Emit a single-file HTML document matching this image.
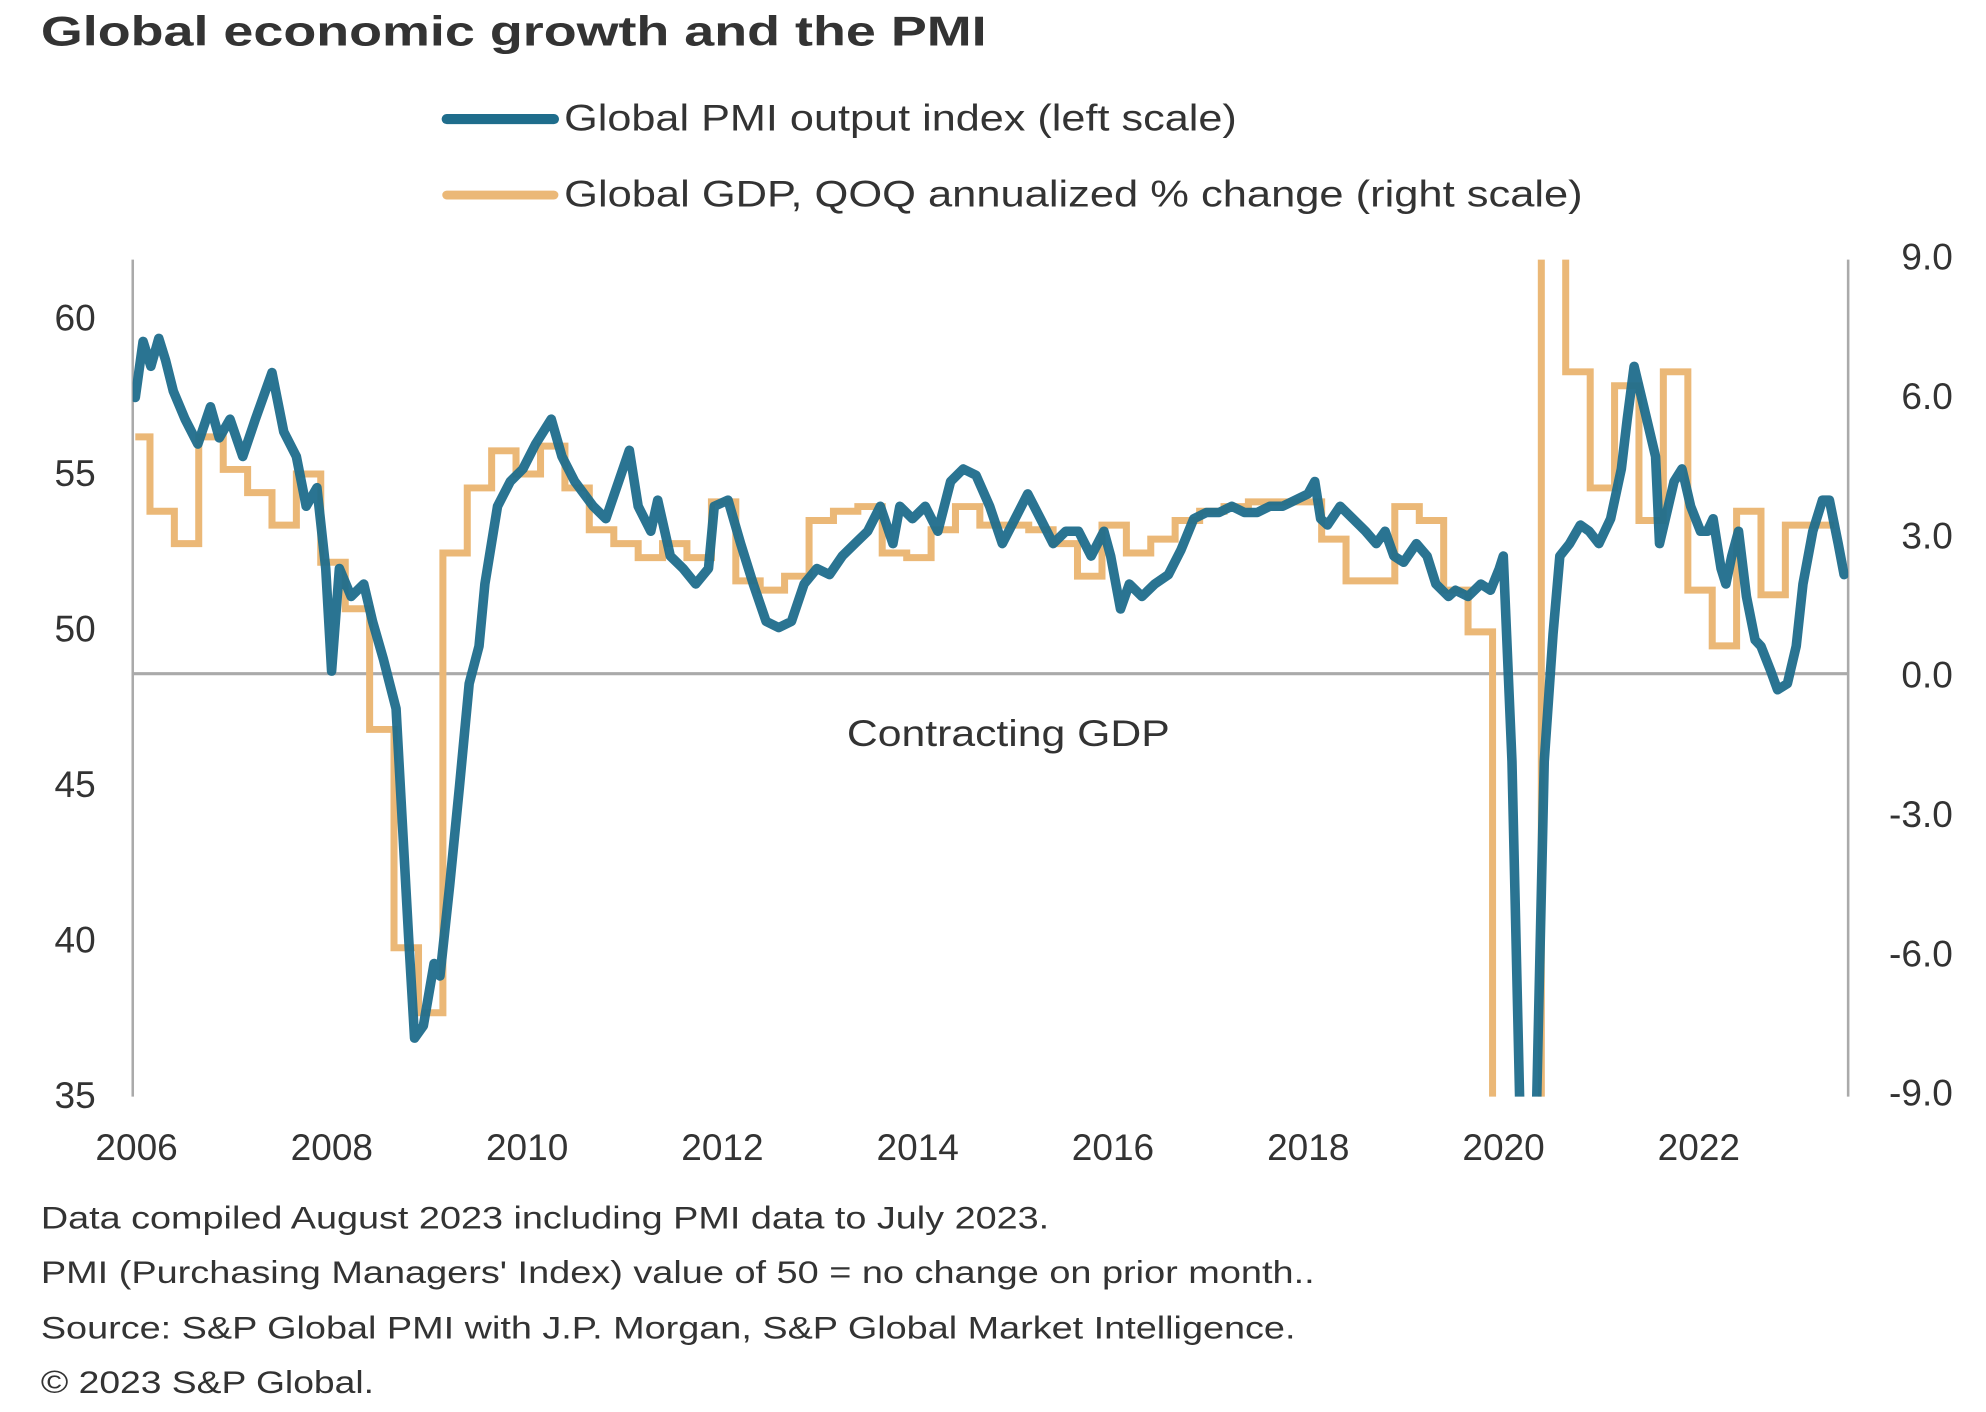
<!DOCTYPE html>
<html><head><meta charset="utf-8">
<style>
html,body{margin:0;padding:0;background:#fff;width:1986px;height:1412px;overflow:hidden;}
svg{display:block;}
text{font-family:"Liberation Sans",Arial,sans-serif;fill:#333;}
</style></head>
<body>
<svg id="chart" width="1986" height="1412" viewBox="0 0 1556 1115" preserveAspectRatio="none" xmlns="http://www.w3.org/2000/svg">
  <rect x="0" y="0" width="1556" height="1115" fill="#fff"/>
  <text x="32" y="36" font-size="33" font-weight="bold" fill="#222" textLength="741" lengthAdjust="spacingAndGlyphs">Global economic growth and the PMI</text>
  <g>
    <g>
      <line x1="350" y1="94" x2="434" y2="94" stroke="#1f6d8c" stroke-width="8" stroke-linecap="round"/>
      <text x="442" y="103" font-size="29" textLength="527" lengthAdjust="spacingAndGlyphs">Global PMI output index (left scale)</text>
    </g>
    <g>
      <line x1="350" y1="154" x2="434" y2="154" stroke="#ebb877" stroke-width="7" stroke-linecap="round"/>
      <text x="442" y="163" font-size="29" textLength="798" lengthAdjust="spacingAndGlyphs">Global GDP, QOQ annualized % change (right scale)</text>
    </g>
  </g>
  <line x1="104" y1="205" x2="104" y2="866" stroke="#aaa" stroke-width="2"/>
  <line x1="1448" y1="205" x2="1448" y2="866" stroke="#aaa" stroke-width="2"/>
  <g id="axes"></g>
  <defs><clipPath id="plotclip"><rect x="104" y="205" width="1344" height="661"/></clipPath></defs>
  <g id="series" clip-path="url(#plotclip)"></g>
  <text x="790" y="589" font-size="29" text-anchor="middle" textLength="253" lengthAdjust="spacingAndGlyphs">Contracting GDP</text>
  <g font-size="25">
    <text x="32" y="970" textLength="790" lengthAdjust="spacingAndGlyphs">Data compiled August 2023 including PMI data to July 2023.</text>
    <text x="32" y="1013" textLength="998" lengthAdjust="spacingAndGlyphs">PMI (Purchasing Managers' Index) value of 50 = no change on prior month..</text>
    <text x="32" y="1057" textLength="983" lengthAdjust="spacingAndGlyphs">Source: S&amp;P Global PMI with J.P. Morgan, S&amp;P Global Market Intelligence.</text>
    <text x="32" y="1100" textLength="261" lengthAdjust="spacingAndGlyphs">© 2023 S&amp;P Global.</text>
  </g>
</svg>
<script>
const pmiDates = [0.00,0.08,0.16,0.24,0.31,0.39,0.51,0.64,0.77,0.86,0.97,1.10,1.23,1.40,1.52,1.65,1.75,1.86,1.95,2.01,2.09,2.21,2.34,2.43,2.54,2.67,2.80,2.86,2.95,3.06,3.12,3.22,3.32,3.42,3.52,3.58,3.71,3.84,3.97,4.10,4.26,4.37,4.50,4.69,4.82,4.95,5.06,5.15,5.28,5.35,5.48,5.61,5.74,5.87,5.93,6.07,6.20,6.33,6.46,6.59,6.72,6.85,6.98,7.11,7.24,7.37,7.50,7.63,7.76,7.83,7.96,8.09,8.22,8.35,8.48,8.61,8.75,8.88,9.01,9.14,9.27,9.40,9.53,9.66,9.79,9.92,9.99,10.09,10.18,10.31,10.44,10.58,10.71,10.84,10.97,11.10,11.23,11.36,11.49,11.62,11.75,11.88,12.01,12.08,12.14,12.21,12.34,12.47,12.60,12.71,12.80,12.89,12.99,13.12,13.23,13.32,13.45,13.52,13.65,13.78,13.88,13.97,14.01,14.10,14.24,14.34,14.43,14.52,14.59,14.69,14.80,14.89,14.99,15.11,15.22,15.28,15.35,15.48,15.57,15.61,15.67,15.76,15.84,15.93,16.03,16.10,16.16,16.24,16.29,16.35,16.42,16.50,16.59,16.65,16.75,16.82,16.92,17.01,17.08,17.18,17.28,17.35,17.44,17.50];
const pmiValues = [57.4,59.2,58.4,59.3,58.6,57.6,56.7,55.9,57.1,56.1,56.7,55.5,56.7,58.2,56.3,55.5,53.9,54.5,51.9,48.6,51.9,51.0,51.4,50.2,49.0,47.4,40.0,36.8,37.2,39.2,38.8,41.7,44.9,48.2,49.4,51.4,53.9,54.7,55.1,55.9,56.7,55.5,54.7,53.9,53.5,54.7,55.7,53.9,53.1,54.1,52.3,51.9,51.4,51.9,53.9,54.1,52.7,51.4,50.2,50.0,50.2,51.4,51.9,51.7,52.3,52.7,53.1,53.9,52.7,53.9,53.5,53.9,53.1,54.7,55.1,54.9,53.9,52.7,53.5,54.3,53.5,52.7,53.1,53.1,52.3,53.1,52.3,50.6,51.4,51.0,51.4,51.7,52.5,53.5,53.7,53.7,53.9,53.7,53.7,53.9,53.9,54.1,54.3,54.7,53.5,53.3,53.9,53.5,53.1,52.7,53.1,52.3,52.1,52.7,52.3,51.4,51.0,51.2,51.0,51.4,51.2,51.9,52.3,45.7,26.2,33.0,45.7,49.8,52.3,52.7,53.3,53.1,52.7,53.5,55.1,56.7,58.4,56.7,55.5,52.7,53.5,54.7,55.1,53.9,53.1,53.1,53.5,51.9,51.4,52.3,53.1,51.0,49.6,49.4,48.6,48.0,48.2,49.4,51.4,53.1,54.1,54.1,52.7,51.7];
const gdpQuarters = ["2006Q1","2006Q2","2006Q3","2006Q4","2007Q1","2007Q2","2007Q3","2007Q4","2008Q1","2008Q2","2008Q3","2008Q4","2009Q1","2009Q2","2009Q3","2009Q4","2010Q1","2010Q2","2010Q3","2010Q4","2011Q1","2011Q2","2011Q3","2011Q4","2012Q1","2012Q2","2012Q3","2012Q4","2013Q1","2013Q2","2013Q3","2013Q4","2014Q1","2014Q2","2014Q3","2014Q4","2015Q1","2015Q2","2015Q3","2015Q4","2016Q1","2016Q2","2016Q3","2016Q4","2017Q1","2017Q2","2017Q3","2017Q4","2018Q1","2018Q2","2018Q3","2018Q4","2019Q1","2019Q2","2019Q3","2019Q4","2020Q1","2020Q2","2020Q3","2020Q4","2021Q1","2021Q2","2021Q3","2021Q4","2022Q1","2022Q2","2022Q3","2022Q4","2023Q1","2023Q2"];
const gdpValues = [5.1,3.5,2.8,5.1,4.4,3.9,3.2,4.3,2.4,1.4,-1.2,-5.9,-7.3,2.6,4.0,4.8,4.3,4.9,4.0,3.1,2.8,2.5,2.8,2.5,3.7,2.0,1.8,2.1,3.3,3.5,3.6,2.6,2.5,3.1,3.6,3.2,3.2,3.1,2.8,2.1,3.2,2.6,2.9,3.3,3.5,3.6,3.7,3.7,3.7,2.9,2.0,2.0,3.6,3.3,1.8,0.9,-9.6,-25.0,30.0,6.5,4.0,6.2,3.3,6.5,1.8,0.6,3.5,1.7,3.2,3.2];
const xTickLabels = ["2006","2008","2010","2012","2014","2016","2018","2020","2022"];
const leftTickLabels = ["35","40","45","50","55","60"];
const rightTickLabels = ["-9.0","-6.0","-3.0","0.0","3.0","6.0","9.0"];

const NS = "http://www.w3.org/2000/svg";
function xScale(t){ return 106 + t*76.5; }
function yLeft(v){ return 864 - (v-35)*24.56; }
function yRight(g){ return 532 - g*36.67; }
function mk(tag, attrs, parent){ const e=document.createElementNS(NS,tag); for(const k in attrs) e.setAttribute(k,attrs[k]); parent.appendChild(e); return e; }

const axes = document.getElementById('axes');
const series = document.getElementById('series');

const zl = mk('line',{x1:104,x2:1448,y1:yRight(0),y2:yRight(0),stroke:'#aaa','stroke-width':2.5},axes);



xTickLabels.forEach(l=>{
  const t = mk('text',{x:xScale(+l-2006)+1,y:916,'font-size':29,'text-anchor':'middle'},axes);
  t.textContent=l;
  
  
});
leftTickLabels.forEach(l=>{
  const t = mk('text',{x:75,y:yLeft(+l)+11,'font-size':29,'text-anchor':'end'},axes);
  t.textContent=l;
  
  
});
rightTickLabels.forEach(l=>{
  const t = mk('text',{x:1530,y:yRight(+l)+11,'font-size':29,'text-anchor':'end'},axes);
  t.textContent=l;
  
  
});

let d='';
gdpQuarters.forEach((q,i)=>{
  const yr=+q.slice(0,4), qn=+q.slice(5);
  const t0=(yr-2006)+(qn-1)/4-0.1, t1=t0+0.25;
  const y=yRight(gdpValues[i]);
  d += (i===0?'M':'L')+xScale(Math.max(t0,0)).toFixed(1)+','+y.toFixed(1)+'L'+xScale(t1).toFixed(1)+','+y.toFixed(1);
});
const gp = mk('path',{d:d,fill:'none',stroke:'#ebb877','stroke-width':5.5,'stroke-linejoin':'miter'},series);



let d2='';
pmiDates.forEach((t,i)=>{ d2 += (i===0?'M':'L')+xScale(t).toFixed(1)+','+yLeft(pmiValues[i]).toFixed(1); });
const pp = mk('path',{d:d2,fill:'none',stroke:'#1f6d8c','stroke-width':7.5,'stroke-linejoin':'round','stroke-linecap':'round','stroke-opacity':0.95},series);


</script>
</body></html>
